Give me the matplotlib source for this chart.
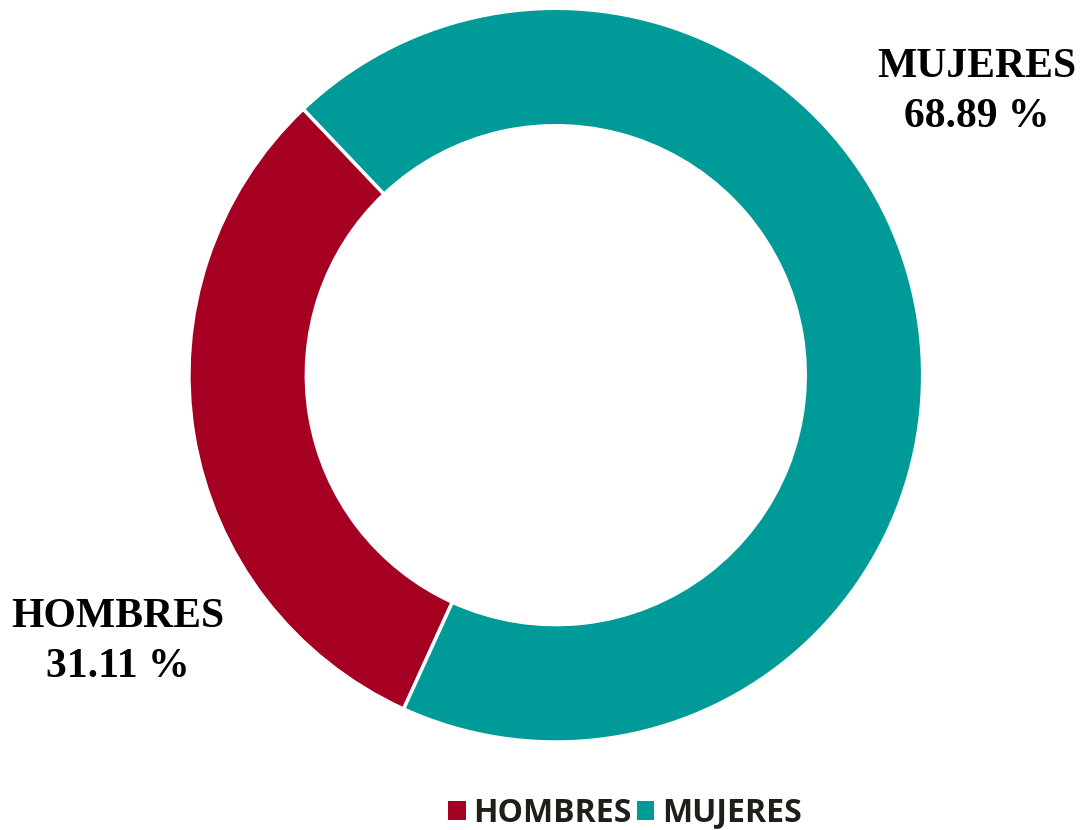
import matplotlib.pyplot as plt
from matplotlib.patches import Patch

labels = ["HOMBRES", "MUJERES"]
values = [31.11, 68.89]
colors = ["#A50021", "#009A98"]

fig = plt.figure(figsize=(10.85, 8.3), dpi=100)
ax = fig.add_axes([0.174, 0.106, 0.6765, 0.884])

ax.pie(values, colors=colors, startangle=133.5, counterclock=True,
       radius=1.0, wedgeprops=dict(width=0.32, edgecolor="white", linewidth=2.5))
ax.set_xlim(-1, 1)
ax.set_ylim(-1, 1)
ax.set_aspect("equal")
ax.axis("off")

# data labels
lab_font = dict(family="Liberation Serif", weight="bold", size=30, color="black",
                ha="center", va="center")
fig.text(977 / 1085, 1 - 92 / 830, "%s\n%.2f %%" % (labels[1], values[1]),
         linespacing=1.4, **lab_font)
fig.text(118 / 1085, 1 - 642 / 830, "%s\n%.2f %%" % (labels[0], values[0]),
         linespacing=1.4, **lab_font)

handles = [Patch(facecolor=c, edgecolor="none") for c in colors]
fig.legend(handles, labels, loc="center", bbox_to_anchor=(625 / 1085, 1 - 813 / 830),
           ncol=2, frameon=False, handlelength=0.55, handleheight=0.55,
           handletextpad=0.25, columnspacing=0.15,
           prop=dict(family="Open Sans", weight="bold", size=23),
           labelcolor="#1f1f1a")

fig.savefig("out.png", dpi=100)
